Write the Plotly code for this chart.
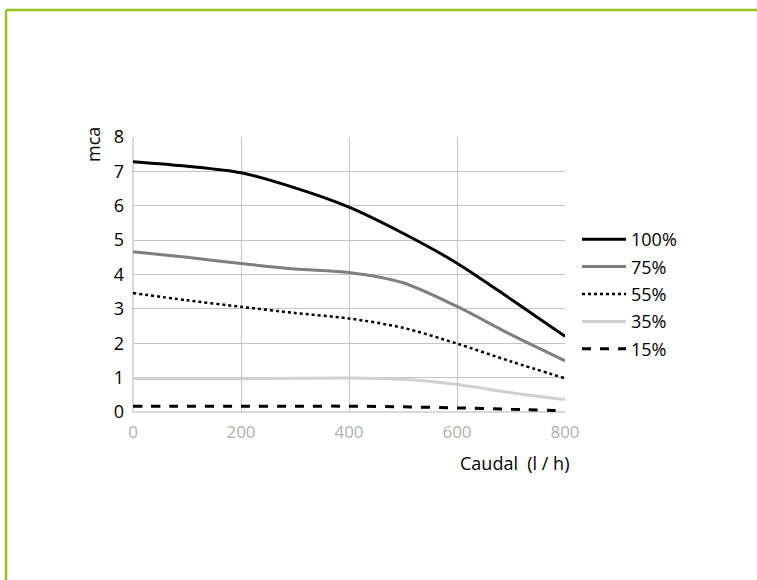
import plotly.graph_objects as go

# Caudal (l/h)
caudal = [0, 100, 200, 300, 400, 500, 600, 700, 800]

# mca por velocidad
v100 = [7.28, 7.15, 6.96, 6.52, 5.96, 5.2, 4.33, 3.28, 2.2]
v75 = [4.66, 4.5, 4.32, 4.16, 4.06, 3.76, 3.07, 2.25, 1.49]
v55 = [3.46, 3.25, 3.06, 2.88, 2.72, 2.45, 1.99, 1.47, 0.98]
v35 = [0.97, 0.97, 0.97, 0.98, 0.99, 0.95, 0.8, 0.56, 0.36]
v15 = [0.17, 0.17, 0.17, 0.17, 0.17, 0.15, 0.12, 0.08, 0.04]

nombres = ["100%", "75%", "55%", "35%", "15%"]
series = [v100, v75, v55, v35, v15]
estilos = [
    dict(color="#000000", width=3, dash="solid"),
    dict(color="#7f7f7f", width=3, dash="solid"),
    dict(color="#000000", width=2.5, dash="dot"),
    dict(color="#d0d0d0", width=3, dash="solid"),
    dict(color="#000000", width=3, dash="dash"),
]

fig = go.Figure()
for nombre, ys, st in zip(nombres, series, estilos):
    fig.add_trace(go.Scatter(x=caudal, y=ys, name=nombre, mode="lines", legendgroup=nombre,
                             line=dict(shape="spline", smoothing=0.8, **st)))

W, H = 757, 580
L, R, T, B = 133, 565, 137, 412
px = lambda p: (p - L) / (R - L)
py = lambda p: (B - p) / (B - T)

verde = "#95c11f"
fig.add_shape(type="line", xref="paper", yref="paper",
              x0=px(6), x1=px(W + 10), y0=py(10), y1=py(10),
              line=dict(color=verde, width=2.5))
fig.add_shape(type="line", xref="paper", yref="paper",
              x0=px(6), x1=px(6), y0=py(10), y1=py(H + 10),
              line=dict(color=verde, width=2.5))

fig.add_annotation(text="mca", xref="paper", yref="paper", x=px(93), y=py(145),
                   xanchor="center", yanchor="middle",
                   textangle=-90, showarrow=False, font=dict(size=18, color="#000"))
fig.add_annotation(text="Caudal  (l / h)", xref="paper", yref="paper", x=px(571), y=py(463),
                   xanchor="right", yanchor="middle", showarrow=False,
                   font=dict(size=18, color="#000"))

fig.update_layout(
    width=W, height=H,
    margin=dict(l=L, r=W - R, t=T, b=H - B, pad=0),
    paper_bgcolor="white", plot_bgcolor="white",
    font=dict(family="Open Sans, sans-serif", size=18, color="#000"),
    legend=dict(x=px(577), y=py(221), xanchor="left", yanchor="top",
                font=dict(size=18), tracegroupgap=1, itemwidth=44),
    showlegend=True,
)
fig.update_xaxes(range=[0, 800], dtick=200, showgrid=True, gridcolor="#c4c4c4", gridwidth=1,
                 zeroline=True, zerolinecolor="#d9d9d9", zerolinewidth=2,
                 showline=False, tickfont=dict(size=17, color="#b0b0b0"), ticks="",
                 ticklabelstandoff=8, fixedrange=True)
fig.update_yaxes(range=[0, 8], dtick=1, showgrid=True, gridcolor="#c4c4c4", gridwidth=1,
                 zeroline=True, zerolinecolor="#d9d9d9", zerolinewidth=2,
                 showline=False, tickfont=dict(size=18, color="#000"), ticks="",
                 ticklabelstandoff=8, fixedrange=True)

# quitar el margen por defecto del body para que la figura ocupe la ventana
fig.write_html("out.html", config={"displayModeBar": False},
               post_script="document.body.style.margin='0';")
